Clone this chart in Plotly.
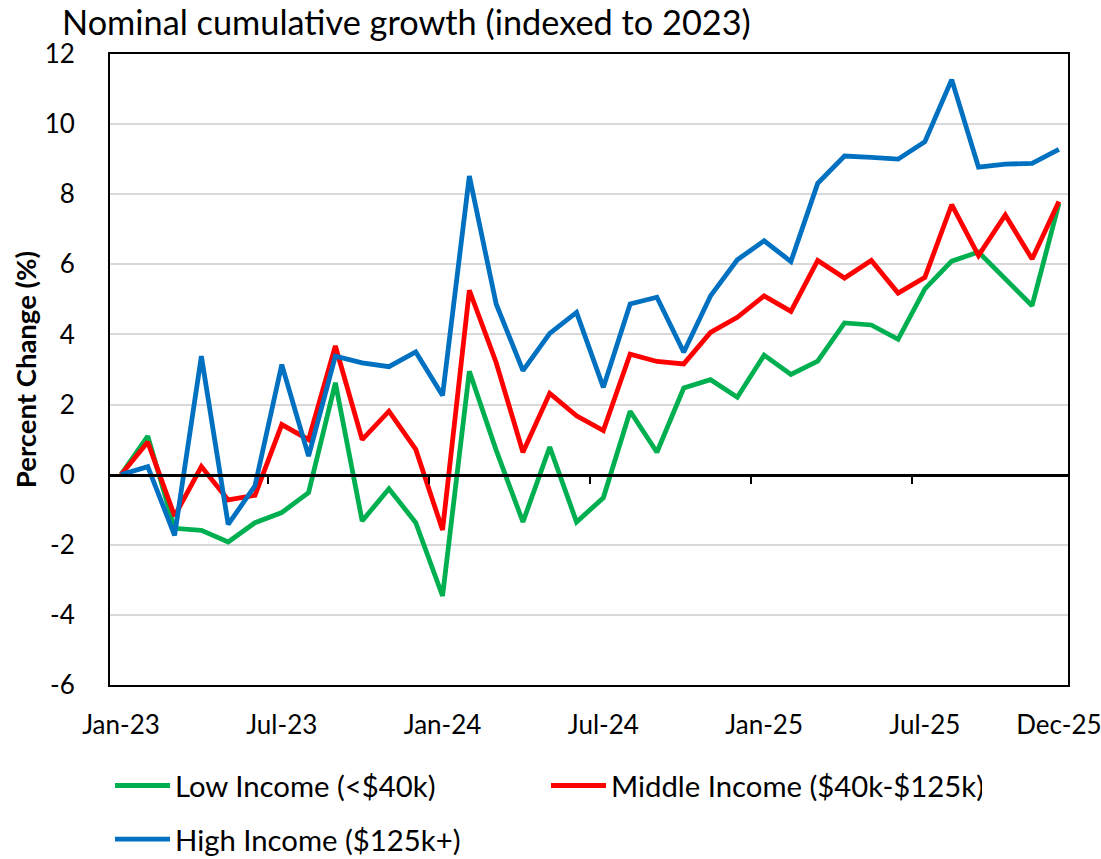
import plotly.graph_objects as go

months = [f"{m}-{y}" for y in ("23", "24", "25") for m in
          ("Jan", "Feb", "Mar", "Apr", "May", "Jun", "Jul", "Aug", "Sep", "Oct", "Nov", "Dec")]

low_income = [0.0, 1.10, -1.53, -1.59, -1.92, -1.37, -1.08, -0.51, 2.62, -1.32, -0.40, -1.37,
              -3.46, 2.95, 0.70, -1.35, 0.79, -1.35, -0.66, 1.81, 0.64, 2.47, 2.71, 2.21,
              3.41, 2.86, 3.24, 4.33, 4.27, 3.86, 5.30, 6.09, 6.35, 5.57, 4.82, 7.73]
middle_income = [0.0, 0.93, -1.18, 0.23, -0.72, -0.59, 1.43, 1.00, 3.67, 1.00, 1.81, 0.72,
                 -1.58, 5.26, 3.20, 0.64, 2.32, 1.68, 1.26, 3.44, 3.23, 3.16, 4.06, 4.49,
                 5.10, 4.66, 6.11, 5.61, 6.11, 5.18, 5.63, 7.70, 6.25, 7.41, 6.15, 7.79]
high_income = [0.0, 0.23, -1.73, 3.38, -1.42, -0.32, 3.14, 0.53, 3.38, 3.19, 3.08, 3.50,
               2.26, 8.52, 4.87, 2.97, 4.03, 4.63, 2.49, 4.87, 5.06, 3.49, 5.10, 6.13,
               6.67, 6.08, 8.31, 9.09, 9.05, 9.00, 9.50, 11.27, 8.77, 8.86, 8.88, 9.28]

series_names = ["Low Income (<$40k)", "Middle Income ($40k-$125k)", "High Income ($125k+)"]
series_colors = ["#00B050", "#FF0000", "#0070C0"]
label_idx = [0, 6, 12, 18, 24, 30, 35]
boundary_ticks = [5.5, 11.5, 17.5, 23.5, 29.5]
y_ticks = [-6, -4, -2, 0, 2, 4, 6, 8, 10, 12]

x = list(range(len(months)))
FONT = "Lato"

fig = go.Figure()
for name, vals, col, leg in zip(series_names, [low_income, middle_income, high_income],
                                series_colors, ["legend", "legend", "legend2"]):
    fig.add_trace(go.Scatter(x=x, y=vals, mode="lines", name=name,
                             line=dict(color=col, width=4.8), legend=leg))

xr = [-0.41, 35.34]
fig.update_layout(
    width=1101, height=859,
    margin=dict(l=110, r=33, t=54, b=174, autoexpand=False),
    paper_bgcolor="white", plot_bgcolor="white",
    font=dict(family=FONT, size=26, color="black"),
    title=dict(text="Nominal cumulative growth (indexed to 2023)",
               font=dict(family=FONT, size=34.3, color="black"),
               xref="container", yref="container", x=62/1101, xanchor="left",
               y=1-23/859, yanchor="middle"),
    xaxis=dict(range=xr, tickvals=label_idx, ticktext=[months[i] for i in label_idx],
               showgrid=False, zeroline=False, showline=True, linecolor="black",
               linewidth=2, mirror=True, ticks="", ticklabelstandoff=16,
               ticklabeloverflow="allow", tickfont=dict(size=26)),
    xaxis2=dict(range=xr, overlaying="x", anchor="free", position=1/3,
                tickvals=boundary_ticks, showticklabels=False, ticks="outside",
                ticklen=8, tickwidth=2, tickcolor="black", showline=True,
                linecolor="black", linewidth=2.5, showgrid=False, zeroline=False),
    yaxis=dict(range=[-6, 12], tickvals=y_ticks, ticktext=[str(v) for v in y_ticks],
               showgrid=True, gridcolor="#d9d9d9",
               gridwidth=1.5, zeroline=False, showline=True, linecolor="black",
               linewidth=2, mirror=True, ticks="", ticklabelstandoff=28,
               tickfont=dict(size=26),
               title=dict(text="<b>Percent Change (%)</b>", font=dict(size=27.5),
                          standoff=0)),
    legend=dict(orientation="h", x=0.0, xanchor="left", y=-0.16, yanchor="middle",
                entrywidth=366, entrywidthmode="pixels", itemwidth=55,
                font=dict(size=29.3), bgcolor="rgba(0,0,0,0)"),
    legend2=dict(orientation="h", x=0.0, xanchor="left", y=-0.245, yanchor="middle",
                 itemwidth=55, font=dict(size=29.3), bgcolor="rgba(0,0,0,0)"),
    showlegend=True,
)
fig.add_trace(go.Scatter(x=[None], y=[None], xaxis="x2", showlegend=False,
                         hoverinfo="skip"))

fig.write_html("out.html", config={"displayModeBar": False},
               post_script="document.body.style.margin='0px';"
               "document.body.style.overflow='hidden';")
